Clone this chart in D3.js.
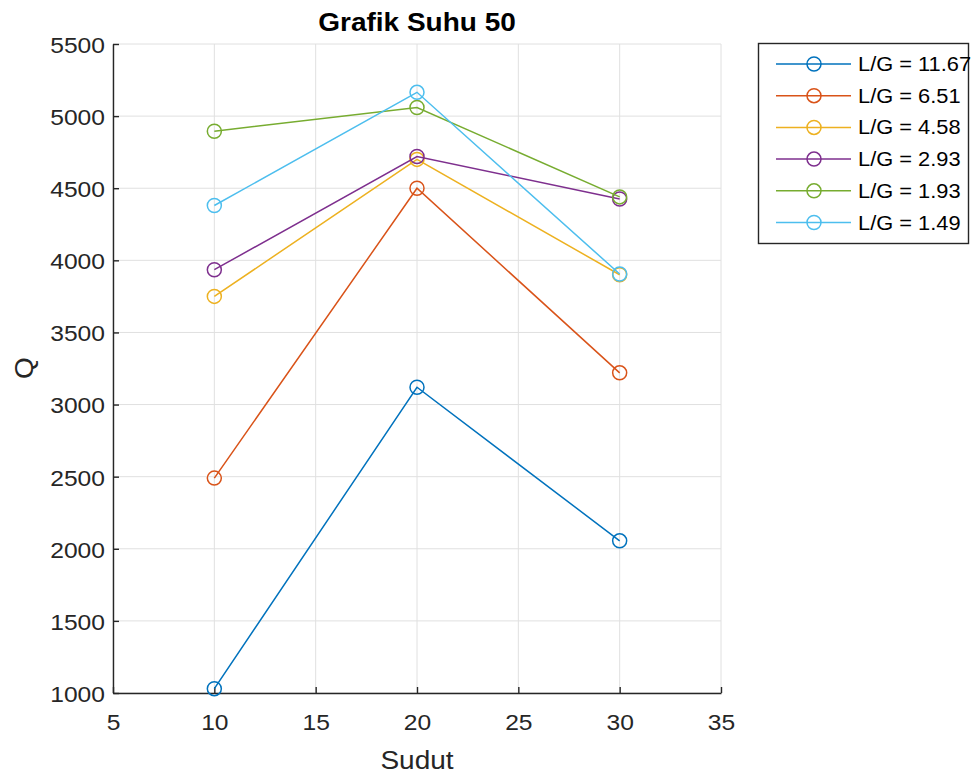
<!DOCTYPE html>
<html><head><meta charset="utf-8">
<script src="https://cdn.jsdelivr.net/npm/d3@7"></script>
<style>body{margin:0;background:#fff}svg{display:block}text{font-family:"Liberation Sans",Arial,sans-serif}</style>
</head><body><svg id="c" width="980" height="774"></svg>
<script>
const angles = [10, 20, 30];
const seriesNames = ["L/G = 11.67","L/G = 6.51","L/G = 4.58","L/G = 2.93","L/G = 1.93","L/G = 1.49"];
const s1 = [1030, 3120, 2055];
const s2 = [2490, 4500, 3220];
const s3 = [3750, 4700, 3900];
const s4 = [3935, 4720, 4425];
const s5 = [4895, 5060, 4440];
const s6 = [4380, 5165, 3905];
const colors = ["#0072BD","#D95319","#EDB120","#7E2F8E","#77AC30","#4DBEEE"];
const xTicks = [5,10,15,20,25,30,35];
const yTicks = [1000,1500,2000,2500,3000,3500,4000,4500,5000,5500];
const allSeries = [s1,s2,s3,s4,s5,s6];

const SX = 1.12; // horizontal text stretch seen in the reference
const svg = d3.select("#c");
const L=113, R=721, T=44, B=693;
const x = d3.scaleLinear().domain([5,35]).range([L,R]);
const y = d3.scaleLinear().domain([1000,5500]).range([B,T]);

// grid
const g = svg.append("g");
g.selectAll(".gx").data(xTicks).enter().append("line")
  .attr("x1",d=>x(d)).attr("x2",d=>x(d)).attr("y1",T).attr("y2",B)
  .attr("stroke","#e0e0e0").attr("stroke-width",1);
g.selectAll(".gy").data(yTicks).enter().append("line")
  .attr("y1",d=>y(d)).attr("y2",d=>y(d)).attr("x1",L).attr("x2",R)
  .attr("stroke","#e0e0e0").attr("stroke-width",1);

// axes
const fmt = d3.format("d");
const xAxis = d3.axisBottom(x).tickValues(xTicks).tickFormat(fmt).tickSizeInner(-6).tickSizeOuter(0);
const yAxis = d3.axisLeft(y).tickValues(yTicks).tickFormat(fmt).tickSizeInner(-6).tickSizeOuter(0);
const gx = svg.append("g").attr("transform",`translate(0,${B})`).call(xAxis);
const gy = svg.append("g").attr("transform",`translate(${L},0)`).call(yAxis);
[gx,gy].forEach(a=>{
  a.attr("font-size",null).attr("font-family",null);
  a.selectAll("path").attr("stroke","#262626").attr("stroke-width",1.4);
  a.selectAll("line").attr("stroke","#262626").attr("stroke-width",1.4);
  a.selectAll("text").attr("fill","#262626").attr("font-size",22)
    .style("font-family","'Liberation Sans', Arial, sans-serif");
});
gx.selectAll("text").attr("y",37).attr("dy",0).attr("transform",`scale(${SX},1)`);
gy.selectAll("text").attr("x",-8/SX).attr("dy","0.38em").attr("transform",`scale(${SX},1)`);

// lines
const line = d3.line().x((d,i)=>x(angles[i])).y(d=>y(d));
allSeries.forEach((s,k)=>{
  svg.append("path").datum(s).attr("d",line).attr("fill","none")
    .attr("stroke",colors[k]).attr("stroke-width",1.5);
  svg.selectAll(null).data(s).enter().append("circle")
    .attr("cx",(d,i)=>x(angles[i])).attr("cy",d=>y(d)).attr("r",7)
    .attr("fill","none").attr("stroke",colors[k]).attr("stroke-width",1.5);
});

// title and labels
svg.append("text").attr("transform",`translate(${(L+R)/2},31) scale(${SX},1)`).attr("text-anchor","middle")
  .attr("font-size",25).attr("font-weight","bold").attr("fill","#000").text("Grafik Suhu 50");
svg.append("text").attr("transform",`translate(${(L+R)/2},769) scale(${SX},1)`).attr("text-anchor","middle")
  .attr("font-size",25).attr("fill","#262626").text("Sudut");
svg.append("text").attr("transform",`translate(33,368) rotate(-90) scale(${SX},1)`).attr("text-anchor","middle")
  .attr("font-size",25).attr("fill","#262626").text("Q");

// legend
const lg = svg.append("g");
lg.append("rect").attr("x",758.5).attr("y",43.5).attr("width",210).attr("height",200)
  .attr("fill","#fff").attr("stroke","#262626").attr("stroke-width",1.4);
const ly = d3.scalePoint().domain(seriesNames).range([64,222.5]);
seriesNames.forEach((n,k)=>{
  const yy = ly(n);
  lg.append("line").attr("x1",776).attr("x2",851).attr("y1",yy).attr("y2",yy)
    .attr("stroke",colors[k]).attr("stroke-width",1.5);
  lg.append("circle").attr("cx",814).attr("cy",yy).attr("r",7).attr("fill","none")
    .attr("stroke",colors[k]).attr("stroke-width",1.5);
  lg.append("text").attr("transform",`translate(858,${yy+7}) scale(${SX},1)`)
    .attr("font-size",19.5).attr("fill","#000").text(n);
});
</script></body></html>
